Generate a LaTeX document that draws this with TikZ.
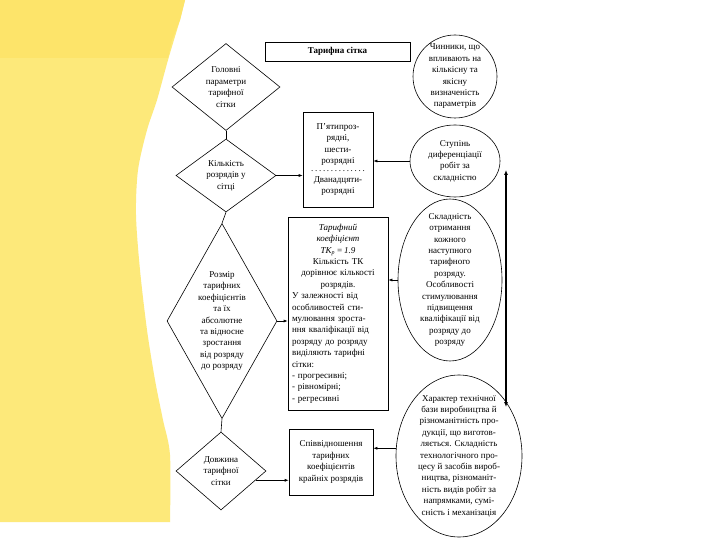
\documentclass[tikz,border=0pt]{standalone}
\usepackage{fontspec}
\setmainfont{Liberation Serif}
\usetikzlibrary{shapes.geometric,arrows.meta}
\definecolor{slideyellow}{RGB}{253,233,122}
\definecolor{slideyellowtop}{RGB}{253,228,106}

\begin{document}
\begin{tikzpicture}[x=1pt,y=-1pt,line width=0.6pt,
    every node/.style={font=\fontsize{9}{11.4}\selectfont, align=center},
    dia/.style={diamond, draw, inner sep=0pt},
    ell/.style={ellipse, draw, inner sep=0pt},
    box/.style={rectangle, draw, inner sep=0pt},
    >={Latex[length=4pt,width=3pt]}]
      \useasboundingbox (0,0) rectangle (720,540);
      \fill[white] (0,0) rectangle (720,540);
      \fill[slideyellow] (0,0) -- (185,0) -- plot[smooth] coordinates {(180,20) (168,60) (157,100) (147,130) (138,170) (136,215) (140,270) (147,330) (155,380) (163,420) (170,455) (170,522)} -- (0,522) -- cycle;
      \fill[slideyellowtop] (0,0) -- (185,0) -- (180,20) -- (172,40) -- (168,58) -- (0,58) -- cycle;

      \node[box, minimum width=145, minimum height=19, font=\fontsize{9}{11}\selectfont\bfseries] (T) at (337.5,51.5) {Тарифна сітка};

      \node[dia, minimum width=108, minimum height=87, label={center:Головні\\параметри\\тарифної\\сітки}] (D1) at (226,87) {};
      \node[dia, minimum width=100, minimum height=73, label={center:Кількість\\розрядів у\\сітці}] (D2) at (226,175.5) {};
      \node[dia, minimum width=110, minimum height=195, label={center:Розмір\\тарифних\\коефіцієнтів\\та їх\\абсолютне\\та відносне\\зростання\\від розряду\\до розряду}] (D3) at (222,321) {};
      \node[dia, minimum width=90, minimum height=78, label={center:Довжина\\тарифної\\сітки}] (D4) at (221,471) {};

      \node[box, minimum width=70, minimum height=95] (B1) at (338,159.5) {П'ятипроз-\\рядні,\\шести-\\розрядні\\[-3pt]\makebox[56pt]{\dotfill}\\[-1pt]Дванадцяти-\\розрядні};
      \node[box, minimum width=100, minimum height=193, text width=92, align=left] (B2) at (338,313.5) {{\centering\itshape Тарифний\\коефіцієнт\\ТК\textsubscript{р}\,=\,1.9\par}{\centering Кількість ТК\\дорівнює кількості\\розрядів.\par}У залежності від\\особливостей сти-\\мулювання зроста-\\ння кваліфікації від\\розряду до розряду\\виділяють тарифні\\сітки:\\- прогресивні;\\- рівномірні;\\- регресивні};
      \node[box, minimum width=84, minimum height=66] (B3) at (331,462) {Співвідношення\\тарифних\\коефіцієнтів\\крайніх розрядів};

      \node[ell, minimum width=84, minimum height=83, label={center:Чинники, що\\впливають на\\кількісну та\\якісну\\визначеність\\параметрів}] (E1) at (455,76.5) {};
      \node[ell, minimum width=90, minimum height=72, label={center:Ступінь\\диференціації\\робіт за\\складністю}] (E2) at (455,161) {};
      \node[ell, minimum width=104, minimum height=162, label={center:Складність\\отримання\\кожного\\наступного\\тарифного\\розряду.\\Особливості\\стимулювання\\підвищення\\кваліфікації від\\розряду до\\розряду}] (E3) at (450,280) {};
      \node[ell, minimum width=126, minimum height=162, label={center:Характер технічної\\бази виробництва й\\різноманітність про-\\дукції, що виготов-\\ляється. Складність\\технологічного про-\\цесу й засобів вироб-\\ництва, різноманіт-\\ність видів робіт за\\напрямками, сумі-\\сність і механізація}] (E4) at (459,456) {};

      \coordinate (vt) at (506,170);
      \coordinate (vb) at (506,407);

      \draw (D1.south) -- (D2.north);
      \draw (D2.south) -- (D3.north);
      \draw (D3.south) -- (D4.north);

      \draw[->] (D2.east) -- (D2.east -| B1.west);
      \draw[->] (D3.east) -- (D3.east -| B2.west);
      \draw[->] (D4.-15) -- (D4.-15 -| B3.west);

      \draw[->] (E2.west) -- (E2.west -| B1.east);
      \draw[->] (E3.west) -- (E3.west -| B2.east);
      \draw[->] (E4.173) -- (E4.173 -| B3.east);

      \draw[{Latex[length=5pt,width=4pt]}-{Latex[length=5pt,width=4pt]}, line width=1.1pt] (vt) -- (vb);
    \end{tikzpicture}
\end{document}
